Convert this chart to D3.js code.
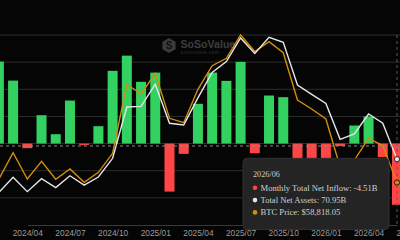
<!DOCTYPE html>
<html><head><meta charset="utf-8">
<script src="https://cdn.jsdelivr.net/npm/d3@7"></script>
<style>
html,body{margin:0;padding:0;background:#050505;overflow:hidden;}
svg{display:block;}
</style></head>
<body><svg id="c" width="400" height="240"></svg>
<script>
const months = ["2024/01","2024/02","2024/03","2024/04","2024/05","2024/06","2024/07","2024/08","2024/09","2024/10","2024/11","2024/12",
"2025/01","2025/02","2025/03","2025/04","2025/05","2025/06","2025/07","2025/08","2025/09","2025/10","2025/11","2025/12",
"2026/01","2026/02","2026/03","2026/04","2026/05","2026/06"];
const netInflow = [1.46,6.04,4.64,-0.34,2.09,0.69,3.17,-0.10,1.28,5.36,6.48,4.55,
5.23,-3.54,-0.76,2.93,5.23,4.62,6.02,-0.71,3.54,3.42,-3.48,-1.2,
-1.61,-0.18,1.33,1.99,-1.00,-4.51];
const totalNetAssets = [27.5,45.1,56.9,45.8,55.8,48.9,58.1,50.9,57.1,71.6,111.3,111.8,
128.9,98.7,97.4,118.3,138.0,146.5,164.7,152.8,165.2,161.4,128.3,121.1,
114.0,86.3,90.4,105.9,98.7,70.95];
const btcPrice = [43100,60170,70280,60170,66970,60060,64010,58900,62750,70050,96560,92830,
100780,83490,81800,94640,103700,106550,115500,109160,112920,108700,90530,87070,
83230,64780,67470,75810,73040,58818.05];
const xTickLabels = ["2024/04","2024/07","2024/10","2025/01","2025/04","2025/07","2025/10","2026/01","2026/04","2026/07"];
const flowTicks = [-6,-4,-2,0,2,4,6,8];

(function(){
const hoverIndex = 29;
const svg = d3.select("#c");
const W = 400;
const plotTop = 35, plotBottom = 225;
const monthIdx = s => { const [y,m] = s.split("/").map(Number); return (y-2024)*12 + (m-1); };

const x = d3.scaleLinear().domain([3, 29]).range([27.3, 397]);
const yFlow = d3.scaleLinear().domain([-6, 8]).range([plotBottom, plotTop]);
const yAssets = d3.scaleLinear().domain([20, 167]).range([plotBottom, plotTop]);
const yPrice = d3.scaleLinear().domain([42500, 115500]).range([plotBottom, plotTop]);
const barW = 10;

const green = "#33d160", red = "#ff4545", orange = "#d38d0b", white = "#e6e6e6";

svg.append("g").selectAll("line").data(flowTicks.slice(1)).join("line")
  .attr("x1", 0).attr("x2", W).attr("y1", d => yFlow(d)).attr("y2", d => yFlow(d))
  .attr("stroke", "#2e2e2e").attr("stroke-width", 1);

const xAxis = d3.axisBottom(x)
  .tickValues(xTickLabels.map(monthIdx))
  .tickFormat(i => xTickLabels.find(l => monthIdx(l) === i))
  .tickSize(0).tickPadding(5);
const gx = svg.append("g").attr("transform", `translate(0,${plotBottom})`).call(xAxis);
gx.select(".domain").attr("stroke", "#3a3a3a");
gx.selectAll("text").attr("fill", "#9a9a9a").attr("font-size", "8.4px")
  .attr("font-family", "'Liberation Sans', Arial, sans-serif");

const wm = svg.append("g");
const hx = 169, hy = 45.5, hr = 7.6;
const hex = d3.range(6).map(k => { const a = Math.PI/6 + k*Math.PI/3; return [hx + hr*Math.cos(a), hy + hr*Math.sin(a)]; });
wm.append("path").attr("d", "M" + hex.join("L") + "Z").attr("fill", "#3b3b3b");
wm.append("text").attr("x", hx).attr("y", hy + 3.6).attr("text-anchor", "middle")
  .attr("font-size", "10px").attr("font-weight", "bold").attr("fill", "#111")
  .attr("font-family", "'Liberation Sans', Arial, sans-serif").text("S");
wm.append("text").attr("x", 180.5).attr("y", 47.8).attr("font-size", "10.6px").attr("font-weight", "bold")
  .attr("fill", "#3d3d3d").attr("font-family", "'Liberation Sans', Arial, sans-serif").text("SoSoValue");
wm.append("text").attr("x", 181).attr("y", 53.5).attr("font-size", "4.6px").attr("letter-spacing", "0.6px")
  .attr("fill", "#333").attr("font-family", "'Liberation Sans', Arial, sans-serif").text("sosovalue.com");

svg.append("g").selectAll("rect").data(netInflow).join("rect")
  .attr("x", (d, i) => x(i) - barW/2)
  .attr("width", barW)
  .attr("y", d => d >= 0 ? yFlow(d) : yFlow(0))
  .attr("height", d => Math.abs(yFlow(d) - yFlow(0)))
  .attr("fill", d => d >= 0 ? green : red);

const lineA = d3.line().x((d, i) => x(i)).y(d => yAssets(d));
const lineP = d3.line().x((d, i) => x(i)).y(d => yPrice(d));
svg.append("path").datum(btcPrice).attr("d", lineP).attr("fill", "none")
  .attr("stroke", orange).attr("stroke-width", 1.4);
svg.append("path").datum(totalNetAssets).attr("d", lineA).attr("fill", "none")
  .attr("stroke", white).attr("stroke-width", 1.4);

svg.append("line").attr("x1", 0).attr("x2", W).attr("y1", 146).attr("y2", 146)
  .attr("stroke", "#8a8a8a").attr("stroke-width", 1).attr("stroke-dasharray", "3,3");
svg.append("line").attr("x1", x(hoverIndex)).attr("x2", x(hoverIndex)).attr("y1", plotTop).attr("y2", plotBottom)
  .attr("stroke", "#5a5a5a").attr("stroke-width", 1).attr("stroke-dasharray", "3,3");

svg.append("circle").attr("cx", x(hoverIndex)).attr("cy", yAssets(totalNetAssets[hoverIndex])).attr("r", 2.6)
  .attr("fill", white).attr("stroke", "#050505").attr("stroke-width", 0.8);
svg.append("circle").attr("cx", x(hoverIndex)).attr("cy", yPrice(btcPrice[hoverIndex])).attr("r", 2.6)
  .attr("fill", orange).attr("stroke", "#050505").attr("stroke-width", 0.8);

const tt = svg.append("g").attr("transform", "translate(243,158.3)");
tt.append("rect").attr("width", 146).attr("height", 71.2).attr("rx", 4)
  .attr("fill", "#242424").attr("stroke", "#303030").attr("stroke-width", 1);
const ff = "'Liberation Serif', 'Times New Roman', serif";
tt.append("text").attr("x", 10).attr("y", 18.8).attr("font-size", "8.2px").attr("fill", "#c8c8c8")
  .attr("font-family", ff).text(months[hoverIndex]);
const rows = [
  {c: red, t: `Monthly Total Net Inflow: ${netInflow[hoverIndex].toFixed(2)}B`},
  {c: white, t: `Total Net Assets: ${totalNetAssets[hoverIndex].toFixed(2)}B`},
  {c: orange, t: `BTC Price: $${d3.format(",.2f")(btcPrice[hoverIndex])}`}
];
rows.forEach((r, k) => {
  const cy = 29.5 + k*12.3;
  tt.append("circle").attr("cx", 12).attr("cy", cy).attr("r", 2.3).attr("fill", r.c);
  tt.append("text").attr("x", 17.5).attr("y", cy + 2.9).attr("font-size", "8.6px").attr("fill", "#cfcfcf")
    .attr("font-family", ff).text(r.t);
});
})();
</script></body></html>
